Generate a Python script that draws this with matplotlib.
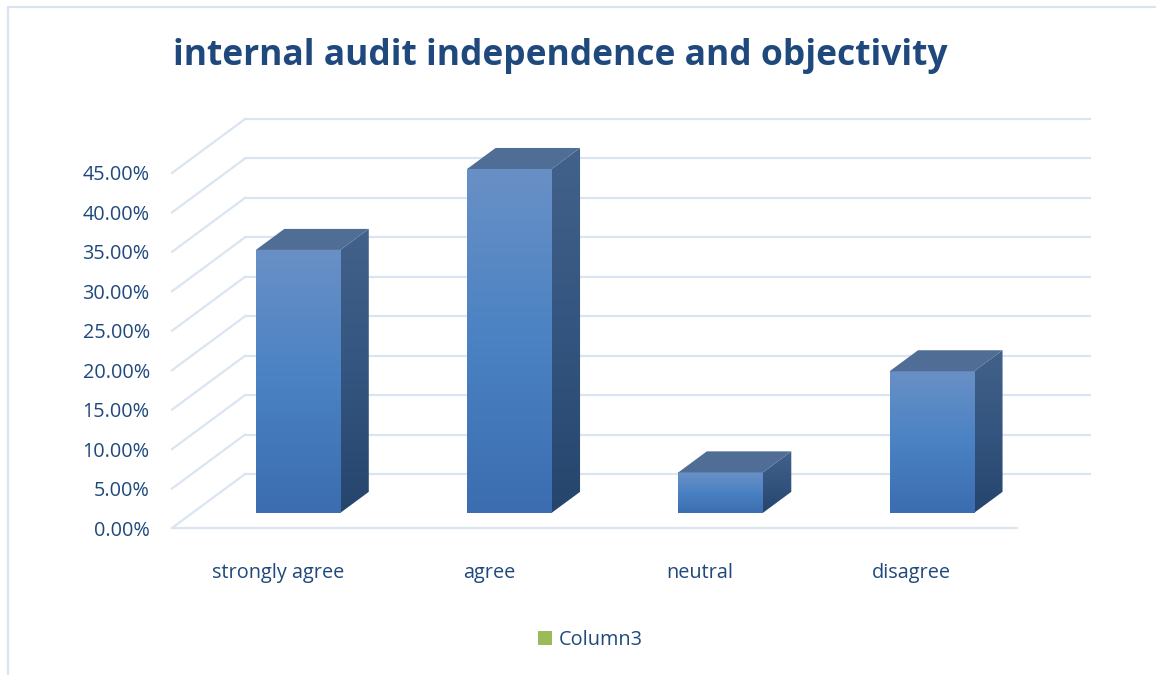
import numpy as np
import matplotlib
matplotlib.use("Agg")
import matplotlib.pyplot as plt
from matplotlib.patches import Polygon, Patch
from matplotlib.lines import Line2D
from matplotlib.colors import LinearSegmentedColormap

# ---- data ----
categories = ["strongly agree", "agree", "neutral", "disagree"]
values = [33.33, 43.59, 5.13, 17.95]          # percent
yticks = [0, 5, 10, 15, 20, 25, 30, 35, 40, 45]
ytick_labels = ["%.2f%%" % t for t in yticks]
legend_label = "Column3"
title = "internal audit independence and objectivity"

# ---- style ----
TXT = "#1f497d"
GRID = "#dbe5f2"
FONT = "Open Sans"
plt.rcParams["font.family"] = [FONT, "DejaVu Sans"]

W, H = 1156, 675
fig = plt.figure(figsize=(W / 100, H / 100), dpi=100)

# pseudo-3D projection parameters (in data units)
DX = 0.3456      # x shift of full depth
DY = 6.84        # y shift (percent units) of full depth
Z0, Z1 = 0.28, 0.67
BW = 0.40
n = len(categories)

xmax, ymax = n + DX + 0.02, 52.0
px_per_x = 211.25
px_per_y = 7.889
left_px, bottom_px = 172, 528
ax = fig.add_axes([left_px / W, (H - bottom_px) / H,
                   xmax * px_per_x / W, ymax * px_per_y / H])
ax.set_xlim(0, xmax)
ax.set_ylim(0, ymax)
for s in ax.spines.values():
    s.set_visible(False)
ax.set_facecolor("none")

# gridlines: back wall, side wall, floor
for t in yticks:
    ax.plot([DX, n + DX], [t + DY, t + DY], color=GRID, lw=1.6, zorder=1, clip_on=False)
    ax.plot([0, DX], [t, t + DY], color=GRID, lw=1.6, zorder=1, clip_on=False)
ax.plot([0, n], [0, 0], color=GRID, lw=1.6, zorder=1, clip_on=False)

front_cmap = LinearSegmentedColormap.from_list("f", ["#3b6db0", "#4a82c3", "#6990c6"])
side_cmap = LinearSegmentedColormap.from_list("s", ["#26456d", "#34557f", "#42618b"])
top_color = "#506d95"

bars = ax.bar([i + 0.5 - BW / 2 + Z0 * DX for i in range(n)], values, width=BW,
              bottom=Z0 * DY, align="edge", color="#4a7fc0", zorder=3)
ddx, ddy = (Z1 - Z0) * DX, (Z1 - Z0) * DY
grad = np.linspace(0, 1, 256).reshape(-1, 1)
for rect, v in zip(bars, values):
    x0, b, w = rect.get_x(), rect.get_y(), rect.get_width()
    im = ax.imshow(grad, cmap=front_cmap, origin="lower", aspect="auto",
                   extent=[x0, x0 + w, b, b + v], zorder=3.1)
    im.set_clip_path(rect)
    side = Polygon([(x0 + w, b), (x0 + w + ddx, b + ddy), (x0 + w + ddx, b + v + ddy),
                    (x0 + w, b + v)], closed=True, facecolor="none", edgecolor="none", zorder=3)
    ax.add_patch(side)
    im2 = ax.imshow(grad, cmap=side_cmap, origin="lower", aspect="auto",
                    extent=[x0 + w, x0 + w + ddx, b, b + v + ddy], zorder=3.0)
    im2.set_clip_path(side)
    top = Polygon([(x0, b + v), (x0 + w, b + v), (x0 + w + ddx, b + v + ddy),
                   (x0 + ddx, b + v + ddy)], closed=True, facecolor=top_color,
                  edgecolor="none", zorder=3.2)
    ax.add_patch(top)
ax.set_xlim(0, xmax)
ax.set_ylim(0, ymax)

ax.set_yticks(yticks)
ax.set_yticklabels(ytick_labels)
ax.set_xticks([i + 0.5 for i in range(n)])
ax.set_xticklabels(categories)
ax.tick_params(axis="y", length=0, pad=16, labelsize=14.3, labelcolor=TXT)
ax.tick_params(axis="x", length=0, pad=25, labelsize=14.3, labelcolor=TXT)

fig.text(560 / W, 1 - 56 / H, title, ha="center", va="center", fontsize=25.5,
         fontweight="bold", color=TXT)

fig.legend(handles=[Patch(facecolor="#9bbb59", edgecolor="none")], labels=[legend_label],
           loc="center", bbox_to_anchor=(590 / W, 1 - 640 / H), frameon=False,
           handlelength=0.75, handleheight=0.75, handletextpad=0.3,
           prop={"size": 14.3}, labelcolor=TXT)

# chart border (left and top)
bx, by = 8 / W, 1 - 6.5 / H
fig.add_artist(Line2D([bx, bx, 1.0], [0.0, by, by], transform=fig.transFigure,
                      color="#d9e4f1", lw=1.6))

fig.savefig("out.png", dpi=100)
